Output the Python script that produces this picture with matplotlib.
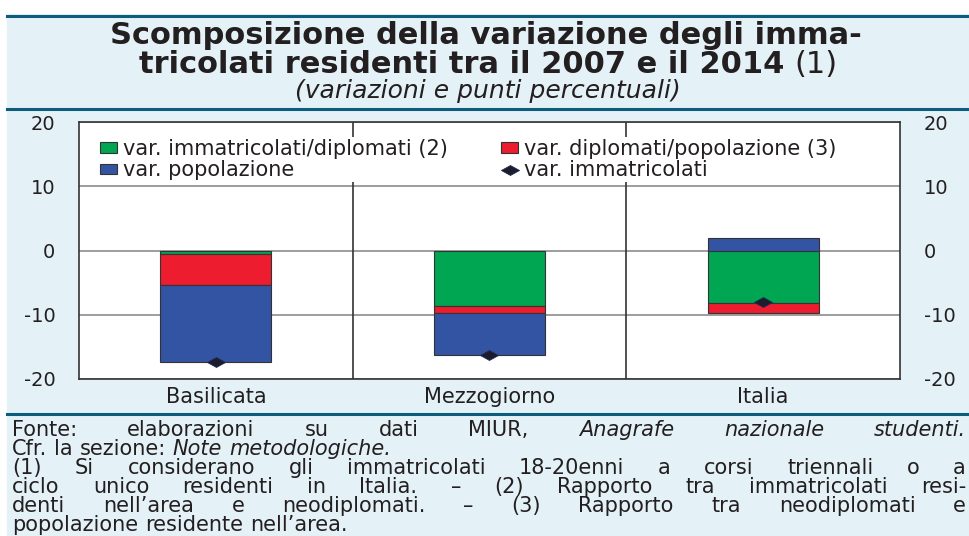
import matplotlib
matplotlib.use('Agg')
import matplotlib.pyplot as plt
from matplotlib.path import Path
from matplotlib.lines import Line2D
from matplotlib.patches import Rectangle

W, H = 970, 536
plt.rcParams['font.family'] = 'DejaVu Sans'
plt.rcParams['axes.unicode_minus'] = False

# dati (punti percentuali)
categories = ['Basilicata', 'Mezzogiorno', 'Italia']
immatr_dipl = [-0.5, -8.6, -8.2]
dipl_pop = [-4.8, -1.2, -1.5]
popolazione = [-12.0, -6.5, 2.0]
immatricolati = [-17.3, -16.3, -8.0]
yticks = [-20, -10, 0, 10, 20]

labels = ['var. immatricolati/diplomati (2)', 'var. diplomati/popolazione (3)',
          'var. popolazione', 'var. immatricolati']
colors = ['#00a651', '#ed1c2e', '#3353a3']

BG = '#e4f2f8'
TEAL = '#0e5c7b'
TXT = '#231f20'


def fx(x):
    return x / W


def fy(y):
    return 1 - y / H


fig = plt.figure(figsize=(W / 100, H / 100), dpi=100)
fig.patch.set_facecolor('white')
fig.patches.append(Rectangle((fx(7), 0), 1, fy(14), transform=fig.transFigure,
                             color=BG, zorder=-2))
for yl in (15.5, 108.5, 414):
    fig.add_artist(Line2D([fx(7), 1], [fy(yl), fy(yl)], color=TEAL, lw=2.2))

ax = fig.add_axes([fx(79), fy(379), 821 / W, 257 / H])
ax.set_facecolor('white')

x = list(range(len(categories)))
pos = [0.0] * len(x)
neg = [0.0] * len(x)
handles = {}
for vals, col, lab in zip([immatr_dipl, dipl_pop, popolazione], colors,
                          [labels[0], labels[1], labels[2]]):
    bottoms = []
    for i, v in enumerate(vals):
        if v >= 0:
            bottoms.append(pos[i])
            pos[i] += v
        else:
            bottoms.append(neg[i])
            neg[i] += v
    handles[lab] = ax.bar(x, vals, bottom=bottoms, width=0.405, color=col,
                          edgecolor='#333333', linewidth=0.8, zorder=3)

# rombo schiacciato come nell'originale
diamond = Path([(-1, 0), (0, 0.55), (1, 0), (0, -0.55), (-1, 0)],
               [Path.MOVETO, Path.LINETO, Path.LINETO, Path.LINETO, Path.CLOSEPOLY])
handles[labels[3]], = ax.plot(x, immatricolati, ls='none', marker=diamond, ms=13,
                              color='#1c1c2a', mec='#1f2a5a', mew=0.6, zorder=5)

ax.set_xlim(-0.5, 2.5)
ax.set_ylim(-20, 20)
ax.set_yticks(yticks)
ax.set_yticklabels([str(t) for t in yticks])
ax.set_xticks(x)
ax.set_xticklabels(categories)
ax.tick_params(axis='y', length=0, labelsize=14, labelcolor=TXT, pad=17,
               labelright=True)
ax.tick_params(axis='x', length=0, labelsize=15, labelcolor=TXT, pad=6)
ax.yaxis.grid(True, color='#8c8c8c', lw=1.2)
ax.set_axisbelow(True)
for s in ax.spines.values():
    s.set_color('#333333')
    s.set_linewidth(1.2)
for xv in (0.5, 1.5):
    ax.axvline(xv, color='#333333', lw=1.2, zorder=1.5)

renderer = fig.canvas.get_renderer()

# legenda: due colonne, seconda colonna allineata come nell'originale
leg_fs = 15
fs_px = leg_fs * 100 / 72
tmp = fig.text(0, 0, labels[0], fontsize=leg_fs)
w1 = tmp.get_window_extent(renderer).width
tmp.remove()
colspace = (502 - 124 - w1) / fs_px
order = [labels[0], labels[2], labels[1], labels[3]]
leg = ax.legend([handles[k] for k in order], order, ncol=2,
                loc='upper left', bbox_to_anchor=((98 - 79) / 821, 1 - (137 - 122) / 257),
                borderaxespad=0, borderpad=0.1, fontsize=leg_fs,
                handlelength=17 / fs_px, handleheight=8 / fs_px,
                handletextpad=6 / fs_px, columnspacing=colspace,
                labelspacing=0.05, numpoints=1, frameon=True, fancybox=False,
                framealpha=1, edgecolor='none', facecolor='white')
for t in leg.get_texts():
    t.set_color(TXT)


def centered_line(parts, y, cx, size):
    arts = []
    for txt, wt, st in parts:
        arts.append(fig.text(0, fy(y), txt, fontsize=size, fontweight=wt,
                             fontstyle=st, color=TXT, va='baseline'))
    widths = [a.get_window_extent(renderer).width for a in arts]
    sp = size * 100 / 72 * 0.33
    total = sum(widths) + sp * (len(arts) - 1)
    xc = cx - total / 2
    for a, w in zip(arts, widths):
        a.set_x(fx(xc))
        xc += w + sp


centered_line([('Scomposizione della variazione degli imma-', 'bold', 'normal')], 44, 486, 22)
centered_line([('tricolati residenti tra il 2007 e il 2014', 'bold', 'normal'),
               ('(1)', 'normal', 'normal')], 73, 488, 22)
centered_line([('(variazioni e punti percentuali)', 'normal', 'italic')], 98, 488, 18)


def note_line(segments, y, justify, size=15, x0=12, x1=966):
    words = []
    for txt, st in segments:
        for w in txt.split(' '):
            words.append((w, st))
    arts = [fig.text(0, fy(y), w, fontsize=size, fontstyle=st, color=TXT,
                     va='baseline') for w, st in words]
    widths = [a.get_window_extent(renderer).width for a in arts]
    if justify and len(arts) > 1:
        gap = (x1 - x0 - sum(widths)) / (len(arts) - 1)
    else:
        gap = size * 100 / 72 * 0.33
    xc = x0
    for a, w in zip(arts, widths):
        a.set_x(fx(xc))
        xc += w + gap


note_line([('Fonte: elaborazioni su dati MIUR,', 'normal'),
           ('Anagrafe nazionale studenti.', 'italic')], 436, True)
note_line([('Cfr. la sezione:', 'normal'), ('Note metodologiche.', 'italic')], 455, False)
note_line([('(1) Si considerano gli immatricolati 18-20enni a corsi triennali o a', 'normal')],
          474, True)
note_line([('ciclo unico residenti in Italia. – (2) Rapporto tra immatricolati resi-', 'normal')],
          493, True)
note_line([('denti nell’area e neodiplomati. – (3) Rapporto tra neodiplomati e', 'normal')],
          512, True)
note_line([('popolazione residente nell’area.', 'normal')], 531, False)

fig.savefig('out.png', dpi=100, facecolor=fig.get_facecolor())
